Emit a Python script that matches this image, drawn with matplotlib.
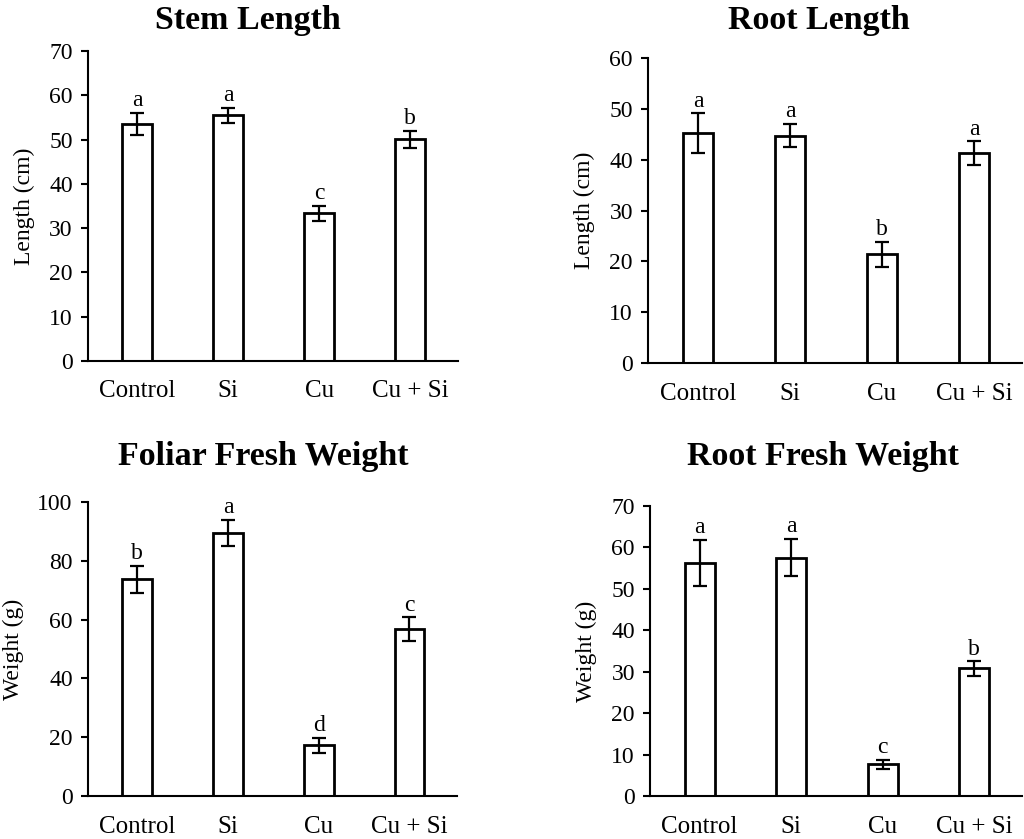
import matplotlib
matplotlib.use("Agg")
import matplotlib.pyplot as plt

categories = ["Control", "Si", "Cu", "Cu + Si"]

stem_vals = [53.6, 55.5, 33.3, 50.1]
stem_err = [2.5, 1.7, 1.8, 1.9]
stem_letters = ["a", "a", "c", "b"]

root_vals = [45.2, 44.7, 21.4, 41.3]
root_err = [3.9, 2.3, 2.4, 2.3]
root_letters = ["a", "a", "b", "a"]

foliar_vals = [73.6, 89.5, 17.3, 56.7]
foliar_err = [4.5, 4.4, 2.5, 4.0]
foliar_letters = ["b", "a", "d", "c"]

rootfw_vals = [56.3, 57.5, 7.7, 30.8]
rootfw_err = [5.6, 4.5, 1.1, 1.7]
rootfw_letters = ["a", "a", "c", "b"]

plt.rcParams['font.family'] = ['Liberation Serif', 'DejaVu Serif']

fig = plt.figure(figsize=(10.24, 8.39), dpi=100)

panels = [
    dict(rect=[0.086, 0.570, 0.361, 0.369], vals=stem_vals, err=stem_err, let=stem_letters,
         ylim=70, step=10, ylabel="Length (cm)", title="Stem Length", tx=0.242, ty=0.976),
    dict(rect=[0.633, 0.567, 0.365, 0.364], vals=root_vals, err=root_err, let=root_letters,
         ylim=60, step=10, ylabel="Length (cm)", title="Root Length", tx=0.800, ty=0.976),
    dict(rect=[0.086, 0.051, 0.360, 0.351], vals=foliar_vals, err=foliar_err, let=foliar_letters,
         ylim=100, step=20, ylabel="Weight (g)", title="Foliar Fresh Weight", tx=0.257, ty=0.456),
    dict(rect=[0.635, 0.051, 0.363, 0.346], vals=rootfw_vals, err=rootfw_err, let=rootfw_letters,
         ylim=70, step=10, ylabel="Weight (g)", title="Root Fresh Weight", tx=0.804, ty=0.456),
]

for p in panels:
    ax = fig.add_axes(p["rect"])
    x = list(range(len(categories)))
    ax.bar(x, p["vals"], width=0.33, color="white", edgecolor="black", linewidth=2, zorder=2)
    ax.errorbar(x, p["vals"], yerr=p["err"], fmt="none", ecolor="black", elinewidth=1.6,
                capsize=5, capthick=1.6, zorder=3)
    for xi, v, e, l in zip(x, p["vals"], p["err"], p["let"]):
        ax.text(xi, v + e + p["ylim"] * 0.006, l, ha="center", va="bottom", fontsize=17)
    ax.set_xlim(-0.54, 3.52)
    ax.set_ylim(0, p["ylim"])
    ax.set_yticks(range(0, p["ylim"] + 1, p["step"]))
    ax.set_xticks(x)
    ax.set_xticklabels(categories)
    ax.tick_params(axis="x", length=0, pad=14, labelsize=18)
    ax.tick_params(axis="y", length=5, width=1.5, direction="out", labelsize=17, pad=6)
    for s in ["top", "right"]:
        ax.spines[s].set_visible(False)
    for s in ["left", "bottom"]:
        ax.spines[s].set_linewidth(1.5)
    ax.set_ylabel(p["ylabel"], fontsize=17, labelpad=10)
    fig.text(p["tx"], p["ty"], p["title"], ha="center", va="center", fontsize=24.5, fontweight="bold")

fig.savefig("out.png", dpi=100)
